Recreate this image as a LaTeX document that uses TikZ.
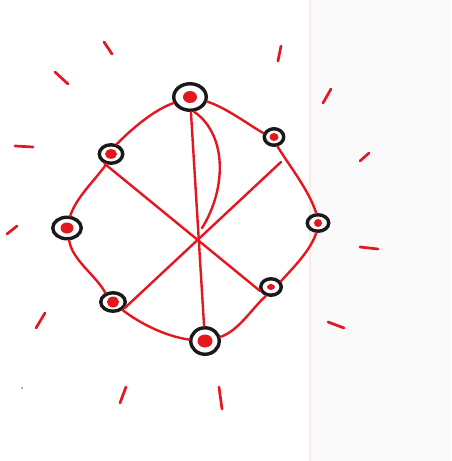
\documentclass[tikz,border=0pt]{standalone}
\usetikzlibrary{shapes.geometric}
\definecolor{pen}{RGB}{228,22,30}
\definecolor{ink}{RGB}{25,25,25}
\definecolor{paperR}{RGB}{251,250,250}
\definecolor{fold}{RGB}{249,234,230}
\tikzset{
  ring/.style n args={4}{ellipse, draw=ink, line width=3.4pt, inner sep=0pt,
    minimum width=#1pt, minimum height=#2pt,
    path picture={\fill[pen] (path picture bounding box.center) ellipse ({#3pt} and {#4pt});}},
  edge/.style={draw=pen, line width=2.4pt, line cap=round},
  ray/.style={draw=pen, line width=2.7pt, line cap=round}
}
\begin{document}
\begin{tikzpicture}[x=1pt,y=1pt]
\useasboundingbox (0,0) rectangle (451,-461);
\fill[white] (0,0) rectangle (451,-461);
\fill[paperR] (311,0) rectangle (451,-461);
\draw[fold, line width=1.5pt] (310,0) -- (310,-461);

% nodes
\node[ring={32.5}{26.5}{7}{6}]   (top) at (190,-97) {};
\node[ring={19.5}{16.5}{4.5}{4}] (ur)  at (274,-137) {};
\node[ring={23.5}{18.5}{6}{4.8}] (lu)  at (111,-154) {};
\node[ring={21.5}{16.5}{4}{4}]   (r)   at (318,-223) {};
\node[ring={28.5}{21.5}{6.5}{5.5}] (l) at (67,-228) {};
\node[ring={20.5}{16.5}{4}{3}]   (lr)  at (271,-287) {};
\node[ring={24.5}{18.5}{6}{5.5}] (ll)  at (113,-302) {};
\node[ring={28.5}{26.5}{7.5}{6.5}] (b) at (205,-341) {};

% loop
\draw[edge] (top.200) to[out=200,in=45,looseness=0.8] (lu.60);
\draw[edge] (top.-15) to[out=-18,in=150,looseness=0.8] (ur.160);
\draw[edge] (ur.-70) to[out=-58,in=108,looseness=0.8] (r.100);
\draw[edge] (r.-100) to[out=-108,in=48,looseness=0.8] (lr.30);
\draw[edge] (lr.-120) to[out=-138,in=18,looseness=0.8] (b.15);
\draw[edge] (b.175) to[out=172,in=-38,looseness=0.8] (ll.-40);
\draw[edge] (ll.130) to[out=118,in=-82,looseness=0.8] (l.-80);
\draw[edge] (l.75) to[out=72,in=-125,looseness=0.8] (lu.-115);

% spokes
\coordinate (d1) at (281,-162);
\coordinate (arcend) at (202,-228);
\draw[edge] (top) -- (b);
\draw[edge] (lu.-125) -- (lr.-160);
\draw[edge] (d1) -- (ll.-30);
\draw[edge] (top.-75) .. controls (228,-135) and (226,-190) .. (arcend);

% rays
\draw[ray] (104,-42) -- (112,-54);
\draw[ray] (55,-72) -- (68,-84);
\draw[ray] (15,-146) -- (33,-147);
\draw[ray] (7,-234) -- (17,-226);
\draw[ray] (36,-328) -- (45,-313);
\draw[ray] (126,-387) -- (120,-403);
\draw[ray] (219,-387) -- (222,-409);
\draw[ray] (328,-322) -- (344,-328);
\draw[ray] (360,-247) -- (378,-249);
\draw[ray] (360,-161) -- (369,-153);
\draw[ray] (323,-103) -- (331,-89);
\draw[ray] (281,-46) -- (278,-61);

\fill[ink!70] (22,-388) circle (0.8);
\end{tikzpicture}
\end{document}
